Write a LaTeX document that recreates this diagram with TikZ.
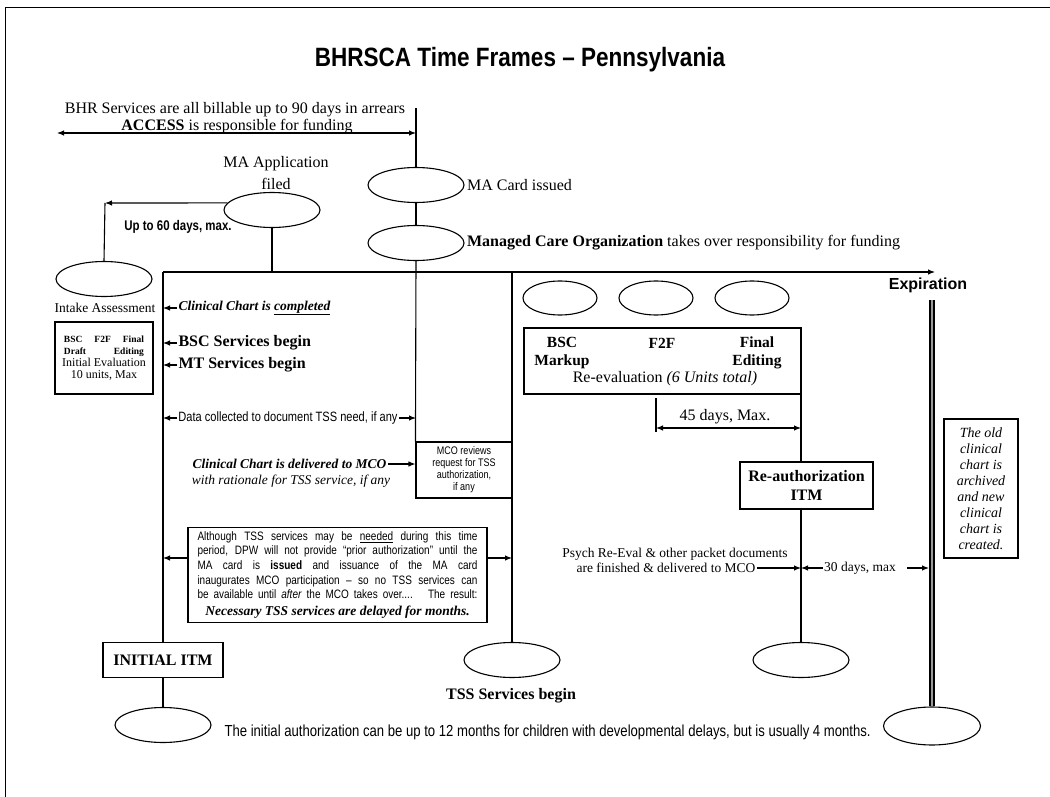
\documentclass[tikz,border=0pt]{standalone}
\usepackage{fontspec}
\setmainfont{Liberation Serif}
\setsansfont{Liberation Sans}
\newfontfamily\titlefont[FakeStretch=0.85,Ligatures=TeX]{Liberation Sans}
\newfontfamily\narrowfont[FakeStretch=0.82,Ligatures=TeX]{Liberation Sans}
\usetikzlibrary{shapes.geometric,arrows.meta,positioning}

\begin{document}
\begin{tikzpicture}[x=1pt,y=-1pt,
		line width=1.1pt,
		>={Latex[length=7pt,width=5.5pt]},
		every node/.style={inner sep=1pt},
		evt/.style={
			ellipse,
			draw,
			inner sep=0pt,
			minimum width=96pt,
			minimum height=35pt
		},
		evtsmall/.style={
			evt,
			minimum width=74pt,
			minimum height=34pt
		},
		box/.style={
			rectangle,
			draw
		},
		serif/.style={font=\fontsize{16}{18}\selectfont},
		serifsm/.style={font=\fontsize{13.5}{15}\selectfont},
		narrow/.style={font=\narrowfont\fontsize{13.5}{15}\selectfont}]

	\useasboundingbox (0,0) rectangle (1050,797);

	% page frame
	\draw[line width=0.9pt] (5,797) -- (5,7) -- (1050,7);

	\node[font=\titlefont\bfseries\fontsize{26.5}{30}\selectfont] (title) at (520,60) {BHRSCA Time Frames -- Pennsylvania};

	%funding before the MA card
	\node[serif] (bhr) at (235,110) {BHR Services are all billable up to 90 days in arrears};
	\node[serif] (access) at (237,127) {\textbf{ACCESS} is responsible for funding};
	\coordinate (accL) at (57,133);
	\coordinate (accR) at (416,133);
	\draw[<->] (accL) -- (accR);

	%MA card and MCO
	\coordinate (cardTop) at (416,108);
	\node[evt] (maCard) at (416,185) {};
	\node[evt] (mco) at (416,243) {};
	\node[serif, right=1pt of maCard] (maCardTxt) {MA Card issued};
	\node[serif, right=1pt of mco] (mcoTxt) {\textbf{Managed Care Organization} takes over responsibility for funding};

	%MA application and intake
	\node[evt] (maApp) at (272,210) {};
	\node[font=\fontsize{16}{22}\selectfont, align=center] (maAppTxt) at (276,173) {MA Application\\filed};
	\node[evt] (intake) at (104,279) {};
	\coordinate (c60) at (105,203);
	\draw (intake.north) -- (c60);
	\draw[->] (maApp.171) -- (c60);
	\node[font=\narrowfont\bfseries\fontsize{14}{16}\selectfont] (days60) at (178,227) {Up to 60 days, max.};
	\node[serifsm] (intakeTxt) at (105,308) {Intake Assessment};
	\node[box, minimum width=98pt, minimum height=72pt, inner sep=0pt, align=center] (evalBox) at (104,358)
		{\fontsize{9.5}{12}\selectfont\bfseries\makebox[80pt]{BSC\hfill F2F\hfill Final}\\
		 \fontsize{9.5}{12}\selectfont\bfseries\makebox[80pt]{Draft\hfill Editing}\\
		 \fontsize{12}{14}\selectfont Initial Evaluation\\
		 \fontsize{12}{14}\selectfont 10 units, Max};

	%main time line
	\coordinate (tl) at (163,272);
	\coordinate (tlEnd) at (935,272);
	\coordinate (tssTop) at (512,272);
	\draw[->] (tl) -- (tlEnd);
	\node[font=\sffamily\bfseries\fontsize{16}{18}\selectfont] (expTxt) at (928,285) {Expiration};
	\draw (maApp.south) -- (maApp.south |- tl);

	\node[box, minimum width=96pt, minimum height=56pt, inner sep=0pt, align=center,
		font=\narrowfont\fontsize{11}{12}\selectfont] (mcoBox) at (464,470)
		{MCO reviews\\request for TSS\\authorization,\\if any};
	\draw (cardTop) -- (maCard.north);
	\draw (maCard.south) -- (mco.north);
	\draw (mco.south) -- (mcoBox.north west);

	\node[box, minimum width=120pt, minimum height=35pt, font=\bfseries\fontsize{16}{18}\selectfont] (initItm) at (163,660) {INITIAL ITM};
	\node[evt] (initEnd) at (163,725) {};
	\draw (tl) -- (initItm.north);
	\draw (initItm.south) -- (initEnd.north);

	\node[evt] (tss) at (512,660) {};
	\node[font=\bfseries\fontsize{16}{18}\selectfont] (tssTxt) at (511,696) {TSS Services begin};
	\draw (tssTop) -- (tss.north);

	%notes along the first period
	\node[font=\bfseries\itshape\fontsize{13.5}{15}\selectfont, anchor=west] (chartDone) at (177,308) {Clinical Chart is \underline{completed}};
	\node[font=\bfseries\fontsize{16}{18}\selectfont, anchor=west] (bscBegin) at (177,343) {BSC Services begin};
	\node[font=\bfseries\fontsize{16}{18}\selectfont, anchor=west] (mtBegin) at (177,365) {MT Services begin};
	\draw[->] (chartDone.west) -- (chartDone.west -| tl);
	\draw[->] (bscBegin.west) -- (bscBegin.west -| tl);
	\draw[->] (mtBegin.west) -- (mtBegin.west -| tl);

	\node[narrow] (dataTxt) at (288,418) {Data collected to document TSS need, if any};
	\draw[->] (dataTxt.west) -- (dataTxt.west -| tl);
	\draw[->] (dataTxt.east) -- (dataTxt.east -| cardTop);

	\node[font=\bfseries\itshape\fontsize{13.5}{16}\selectfont, anchor=east] (delivTxt) at (388,464) {Clinical Chart is delivered to MCO};
	\node[font=\itshape\fontsize{13.5}{15}\selectfont] (ratTxt) at (291,481) {with rationale for TSS service, if any};
	\draw[->] (delivTxt.east) -- (delivTxt.east -| mcoBox.west);

	\node[box, text width=280pt, inner xsep=9.5pt, inner ysep=4pt, align=justify,
		font=\narrowfont\fontsize{12.2}{14.6}\selectfont] (tssNote) at (337.5,575)
		{\parfillskip=0pt Although TSS services may be \underline{needed} during this time\linebreak
		period, DPW will not provide ``prior authorization'' until the\linebreak
		MA card is \textbf{issued} and issuance of the MA card\linebreak
		inaugurates MCO participation -- so no TSS services can\linebreak
		be available until \textit{after} the MCO takes over.... \ The result:\par
		{\centering\rmfamily\bfseries\itshape\fontsize{13.5}{17}\selectfont Necessary TSS services are delayed for months.\par}};
	\coordinate (tssArr) at (337,558);
	\draw[->] (tssArr -| tssNote.west) -- (tssArr -| tl);
	\draw[->] (tssArr -| tssNote.east) -- (tssArr -| tssTop);

	\node[font=\narrowfont\fontsize{16}{18}\selectfont, anchor=west] (authTxt) at (223,732) {The initial authorization can be up to 12 months for children with developmental delays, but is usually 4 months.};

	%re-evaluation
	\node[evtsmall] (bscEv) at (560,298) {};
	\node[evtsmall] (f2fEv) at (656,298) {};
	\node[evtsmall] (finEv) at (752,298) {};
	\node[box, minimum width=277pt, minimum height=66pt] (reeval) at (662.5,361) {};
	\node[font=\bfseries\fontsize{15.5}{18}\selectfont, align=center] (bscTxt) at (562,353) {BSC\\Markup};
	\node[font=\bfseries\fontsize{15.5}{18}\selectfont] (f2fTxt) at (662,343) {F2F};
	\node[font=\bfseries\fontsize{15.5}{18}\selectfont, align=center] (finTxt) at (757,353) {Final\\Editing};
	\node[serif] (reevTxt) at (665,379) {Re-evaluation \textit{(6 Units total)}};

	\coordinate (d45Top) at (656,398);
	\coordinate (d45Bot) at (656,432);
	\coordinate (d45L) at (656,428);
	\coordinate (d45R) at (801,428);
	\draw (d45Top) -- (d45Bot);
	\draw[<->] (d45L) -- (d45R);
	\node[serif] (d45Txt) at (725,417) {45 days, Max.};

	\node[box, minimum width=133pt, minimum height=47pt, align=center, font=\bfseries\fontsize{16}{19}\selectfont] (reauth) at (806.5,485.5) {Re-authorization\\ITM};
	\coordinate (reLine) at (801,394);
	\node[evt] (reEnd) at (801,660) {};
	\draw (reLine) -- (reLine |- reauth.north);
	\draw (reEnd.north |- reauth.south) -- (reEnd.north);

	\node[serifsm] (psychA) at (675,554) {Psych Re-Eval \& other packet documents};
	\node[serifsm, anchor=east] (psychB) at (757,568) {are finished \& delivered to MCO};
	\draw[->] (psychB.east) -- (psychB.east -| reLine);
	\node[serifsm] (d30Txt) at (860,568) {30 days, max};

	%expiration
	\coordinate (expTop) at (932,300);
	\node[evt, minimum width=97pt, minimum height=38pt] (expEnd) at (932,726) {};
	\draw[line width=1.7pt, double=gray!80, double distance=2.4pt] (expTop) -- (expEnd.north);
	\draw[->] (d30Txt.west) -- (d30Txt.west -| reLine);
	\draw[->] ([xshift=10pt]d30Txt.east) -- ([xshift=-3pt]d30Txt.east -| expTop);

	\node[box, minimum width=74pt, minimum height=139pt, align=center, font=\itshape\fontsize{14}{16}\selectfont] (oldChart) at (981,488.5)
		{The old\\clinical\\chart is\\archived\\and new\\clinical\\chart is\\created.};

\end{tikzpicture}
\end{document}
